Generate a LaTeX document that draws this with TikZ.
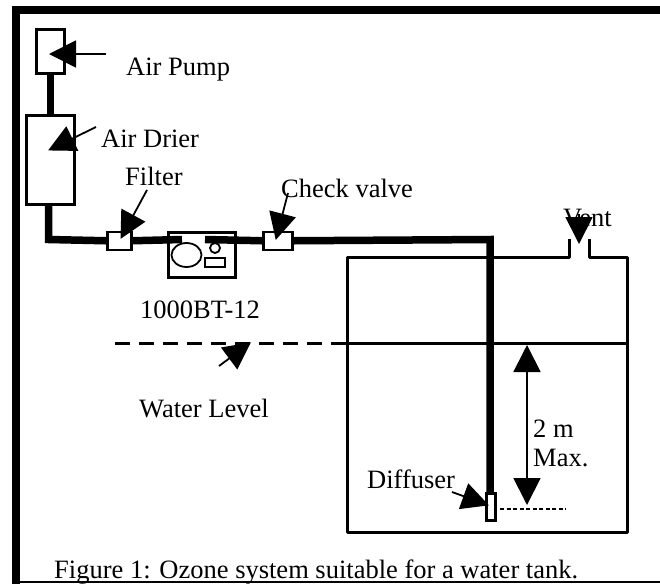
\documentclass[tikz,border=0pt]{standalone}
\usepackage{fontspec}
\setmainfont{Liberation Serif}
\usetikzlibrary{arrows.meta, positioning, shapes.geometric}
\tikzset{x=1pt, y=-1pt,
every node/.style={font=\fontsize{26.5}{30}\selectfont},
label/.style={anchor=base west, inner sep=0pt},
unit/.style={draw, line width=2.5pt, fill=white, inner sep=0pt, anchor=north west}, % Boxes on the air line
pipe/.style={line width=7.5pt},
wall/.style={line width=3pt},
pointer/.style={line width=1.8pt, -{Triangle[length=27pt, width=27pt]}, shorten >=-1pt}}

\begin{document}
\begin{tikzpicture}
    \useasboundingbox (0,0) rectangle (660,584);

    % outer frame
    \draw[line width=8pt] (16,584) -- (16,10) -- (660,10);
    \draw[line width=2.5pt] (16,582) -- (660,582);

    % tank
    \coordinate (tank nw) at (347,257);
    \coordinate (tank ne) at (627,257);
    \coordinate (tank sw) at (347,532);
    \coordinate (tank se) at (627,532);
    \coordinate (vent l) at (569,239);
    \coordinate (vent r) at (589,239);
    \coordinate (level l) at (115,343);
    \coordinate (level m) at (334,343);
    \coordinate (level r) at (627,343);
    \draw[wall, line join=round] (vent l) |- (tank nw) -- (tank sw) -- (tank se) -- (tank ne) -| (vent r);
    \draw[wall] (level m) -- (level r);
    \draw[wall, dash pattern=on 15pt off 9pt] (level l) -- (level m);

    % units
    \node[unit, minimum width=28pt, minimum height=44pt] (pump) at (35,28) {};
    \node[unit, minimum width=48pt, minimum height=89pt] (drier) at (25,114) {};
    \node[unit, minimum width=67pt, minimum height=45pt] (ozone) at (167,231) {};
    \node[unit, minimum width=24pt, minimum height=18pt] (filter) at (106,230.5) {};
    \node[unit, minimum width=29pt, minimum height=18pt] (valve) at (262,230.5) {};
    \node[unit, minimum width=9pt, minimum height=27pt] (diffuser) at (485,492) {};
    \node[draw, line width=1.8pt, ellipse, minimum width=30pt, minimum height=24pt, inner sep=0pt] (lamp) at (186.5,255) {};
    \node[draw, line width=1.8pt, circle, minimum size=10pt, inner sep=0pt] (knob) at (215,248) {};
    \node[draw, line width=1.8pt, minimum width=20pt, minimum height=9pt, inner sep=0pt] (meter) at (215,262.5) {};

    % air line
    \coordinate (corner) at (48.5,239.5);
    \coordinate (in) at (182,239.5);
    \coordinate (out) at (205,239.5);
    \coordinate (bend) at (490,239.5);
    \draw[pipe] (pump.south) -- (pump.south |- drier.north);
    \draw[pipe] (corner |- drier.south) -- (corner) -- (filter.west);
    \draw[pipe] (filter.east) -- (in);
    \draw[pipe] (out) -- (valve.west);
    \draw[pipe] (valve.east) -- (bend) -- (bend |- diffuser.north);

    % bubbles
    \coordinate (bubble l) at (500,509);
    \coordinate (bubble r) at (566,509);
    \draw[line width=2.5pt, dash pattern=on 4pt off 2.5pt] (bubble l) -- (bubble r);

    % labels
    \node[label] (pump text) at (126,75) {Air Pump};
    \node[label] (drier text) at (101,147) {Air Drier};
    \node[label] (filter text) at (125,185) {Filter};
    \node[label] (valve text) at (281,197) {Check valve};
    \node[label] (ozone text) at (140,318) {1000BT-12};
    \node[label] (level text) at (139,417) {Water Level};
    \node[label] (vent text) at (563,226) {Vent};
    \node[label] (depth a) at (533,437) {2 m};
    \node[label] (depth b) at (533,466) {Max.};
    \node[label] (diffuser text) at (367,488) {Diffuser};
    \node[label] (caption) at (54,578) {Figure 1: Ozone system suitable for a water tank.};

    % pointers
    \coordinate (a1) at (106,54);
    \coordinate (a2) at (50,54);
    \coordinate (b1) at (96,127);
    \coordinate (b2) at (49,150);
    \coordinate (c1) at (147,190);
    \coordinate (c2) at (121,238);
    \coordinate (d1) at (288,193);
    \coordinate (d2) at (276,239);
    \coordinate (e1) at (579,214);
    \coordinate (e2) at (579,243);
    \coordinate (f1) at (219,366);
    \coordinate (f2) at (250,343);
    \coordinate (g1) at (452,492);
    \coordinate (g2) at (488,505);
    \coordinate (h1) at (527,345);
    \coordinate (h2) at (527,504);
    \draw[pointer] (a1) -- (a2);
    \draw[pointer] (b1) -- (b2);
    \draw[pointer] (c1) -- (c2);
    \draw[pointer] (d1) -- (d2);
    \draw[pointer] (e1) -- (e2);
    \draw[pointer] (f1) -- (f2);
    \draw[pointer] (g1) -- (g2);
    \draw[pointer, {Triangle[length=27pt, width=27pt]}-{Triangle[length=27pt, width=27pt]}] (h1) -- (h2);

\end{tikzpicture}
\end{document}
